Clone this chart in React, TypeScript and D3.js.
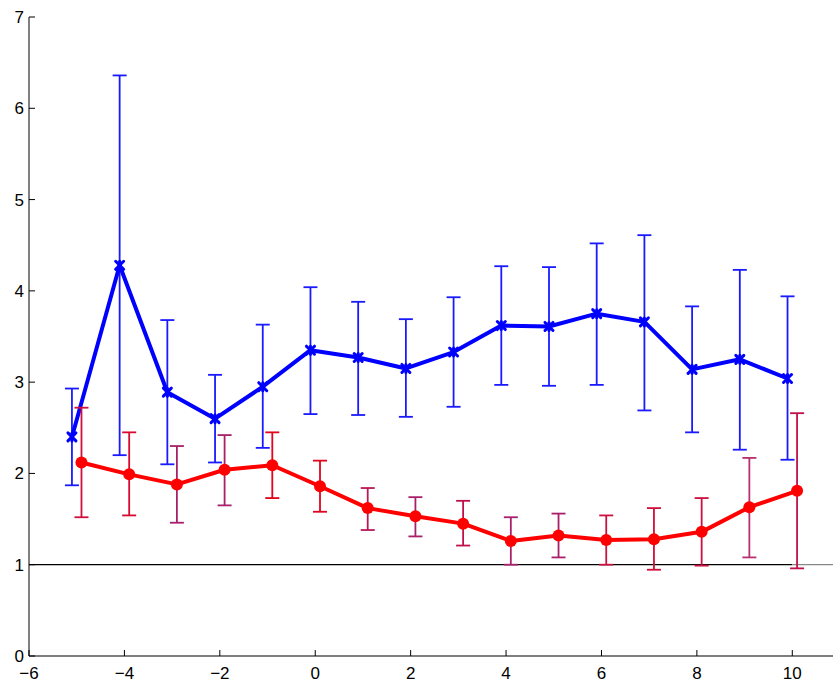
import React from "react";
import * as d3 from "d3";

const xs = [-5, -4, -3, -2, -1, 0, 1, 2, 3, 4, 5, 6, 7, 8, 9, 10];
const blueMean = [2.4, 4.28, 2.89, 2.6, 2.95, 3.35, 3.27, 3.15, 3.33, 3.62, 3.61, 3.75, 3.66, 3.14, 3.25, 3.04];
const blueHigh = [2.93, 6.36, 3.68, 3.08, 3.63, 4.04, 3.88, 3.69, 3.93, 4.27, 4.26, 4.52, 4.61, 3.83, 4.23, 3.94];
const blueLow = [1.87, 2.2, 2.1, 2.12, 2.28, 2.65, 2.64, 2.62, 2.73, 2.97, 2.96, 2.97, 2.69, 2.45, 2.26, 2.15];
const redMean = [2.12, 1.99, 1.88, 2.04, 2.09, 1.86, 1.62, 1.53, 1.45, 1.26, 1.32, 1.27, 1.28, 1.36, 1.63, 1.81];
const redHigh = [2.72, 2.45, 2.3, 2.42, 2.45, 2.14, 1.84, 1.74, 1.7, 1.52, 1.56, 1.54, 1.62, 1.73, 2.17, 2.66];
const redLow = [1.52, 1.54, 1.46, 1.65, 1.73, 1.58, 1.38, 1.31, 1.21, 1.0, 1.08, 1.0, 0.945, 0.99, 1.08, 0.96];
const redBarColors = [
  "#d0103c", "#d80830", "#a8206a", "#a8206a", "#e0041c", "#e0041c", "#b81858", "#a8206a",
  "#c01048", "#a8206a", "#a8206a", "#cc1040", "#d00c38", "#cc1040", "#b83070", "#c01048",
];
const xTicks = [-6, -4, -2, 0, 2, 4, 6, 8, 10];
const yTicks = [0, 1, 2, 3, 4, 5, 6, 7];
const refValue = 1;

const W = 833;
const H = 684;

export default function App() {
  const x = d3.scaleLinear().domain([-6, 11]).range([29, 840]);
  const y = d3.scaleLinear().domain([0, 7]).range([656, 17]);
  const fmt = (v: number) => (v < 0 ? "\u2212" + Math.abs(v) : String(v));
  const font = "'Liberation Sans', Arial, sans-serif";
  const cap = 7;

  const blueX = xs.map((v) => v - 0.1);
  const redX = xs.map((v) => v + 0.1);

  const line = d3
    .line<[number, number]>()
    .x((d) => x(d[0]))
    .y((d) => y(d[1]));

  const bluePath = line(blueX.map((v, i) => [v, blueMean[i]]) as [number, number][]) || "";
  const redPath = line(redX.map((v, i) => [v, redMean[i]]) as [number, number][]) || "";

  return (
    <svg
      width={W}
      height={H}
      style={{ position: "absolute", left: 0, top: 0, background: "#fff" }}
      fontFamily={font}
    >
      <rect x={0} y={0} width={W} height={H} fill="#fff" />
      {/* reference line */}
      <line x1={x(-6)} x2={x(10)} y1={y(refValue)} y2={y(refValue)} stroke="#000" strokeWidth={1.3} />
      <line x1={x(10)} x2={W} y1={y(refValue)} y2={y(refValue)} stroke="#888" strokeWidth={1.3} />

      {/* axes */}
      <line x1={x(-6)} x2={x(-6)} y1={y(0)} y2={y(7)} stroke="#000" strokeWidth={1} />
      <line x1={x(-6)} x2={x(11)} y1={y(0)} y2={y(0)} stroke="#000" strokeWidth={1.2} />
      {yTicks.map((t) => (
        <g key={"y" + t}>
          <line x1={x(-6)} x2={x(-6) + 6} y1={y(t)} y2={y(t)} stroke="#000" strokeWidth={1} />
          <text x={x(-6) - 5} y={y(t) + 6} textAnchor="end" fontSize={17}>
            {fmt(t)}
          </text>
        </g>
      ))}
      {xTicks.map((t) => (
        <g key={"x" + t}>
          <line x1={x(t)} x2={x(t)} y1={y(0)} y2={y(0) - 6} stroke="#000" strokeWidth={1} />
          <text x={x(t)} y={y(0) + 23} textAnchor="middle" fontSize={17}>
            {fmt(t)}
          </text>
        </g>
      ))}

      {/* blue error bars */}
      {blueX.map((v, i) => (
        <g key={"be" + i} stroke="#1a1aff" strokeWidth={1.8}>
          <line x1={x(v)} x2={x(v)} y1={y(blueHigh[i])} y2={y(blueLow[i])} />
          <line x1={x(v) - cap} x2={x(v) + cap} y1={y(blueHigh[i])} y2={y(blueHigh[i])} />
          <line x1={x(v) - cap} x2={x(v) + cap} y1={y(blueLow[i])} y2={y(blueLow[i])} />
        </g>
      ))}
      <path d={bluePath} fill="none" stroke="#0000ff" strokeWidth={4} strokeLinejoin="round" />
      {blueX.map((v, i) => (
        <g key={"bm" + i} stroke="#0000ff" strokeWidth={3} strokeLinecap="round">
          <line x1={x(v) - 4} x2={x(v) + 4} y1={y(blueMean[i]) - 4} y2={y(blueMean[i]) + 4} />
          <line x1={x(v) - 4} x2={x(v) + 4} y1={y(blueMean[i]) + 4} y2={y(blueMean[i]) - 4} />
          <line x1={x(v)} x2={x(v)} y1={y(blueMean[i]) - 4} y2={y(blueMean[i]) + 4} />
        </g>
      ))}

      {/* red error bars */}
      {redX.map((v, i) => (
        <g key={"re" + i} stroke={redBarColors[i]} strokeWidth={1.8}>
          <line x1={x(v)} x2={x(v)} y1={y(redHigh[i])} y2={y(redLow[i])} />
          <line x1={x(v) - cap} x2={x(v) + cap} y1={y(redHigh[i])} y2={y(redHigh[i])} />
          <line x1={x(v) - cap} x2={x(v) + cap} y1={y(redLow[i])} y2={y(redLow[i])} />
        </g>
      ))}
      <path d={redPath} fill="none" stroke="#ff0000" strokeWidth={4} strokeLinejoin="round" />
      {redX.map((v, i) => (
        <circle key={"rm" + i} cx={x(v)} cy={y(redMean[i])} r={6} fill="#ff0000" />
      ))}
    </svg>
  );
}
